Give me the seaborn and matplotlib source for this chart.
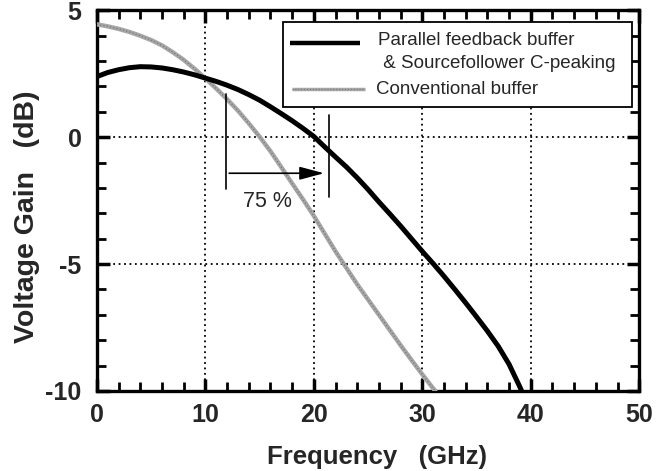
import numpy as np
import pandas as pd
import matplotlib
matplotlib.use("Agg")
import matplotlib.pyplot as plt
from matplotlib.ticker import MultipleLocator
from matplotlib.patches import Rectangle
import seaborn as sns

# Data
freq_pf = [0, 1, 2, 3, 4, 5, 6, 7, 8, 9, 10, 11, 12, 13, 14, 15, 16, 17, 18, 19, 20,
           21, 22, 23, 24, 25, 26, 27, 28, 29, 30, 31, 32, 33, 34, 35, 36, 37, 38, 39, 39.15]
gain_pf = [2.39, 2.55, 2.66, 2.74, 2.78, 2.77, 2.73, 2.66, 2.57, 2.46, 2.33, 2.2, 2.05,
           1.88, 1.68, 1.46, 1.2, 0.93, 0.65, 0.35, 0.03, -0.38, -0.78, -1.17, -1.6,
           -2.06, -2.55, -3.02, -3.5, -4.0, -4.5, -4.98, -5.48, -6.0, -6.53, -7.08, -7.64,
           -8.24, -8.95, -9.85, -10.0]

freq_conv = [0, 1, 2, 3, 4, 5, 6, 7, 8, 9, 10, 11, 12, 13, 14, 15, 16, 17, 18, 19, 20,
             21, 22, 23, 24, 25, 26, 27, 28, 29, 30, 31, 31.2]
gain_conv = [4.45, 4.37, 4.27, 4.15, 4.0, 3.83, 3.62, 3.35, 3.05, 2.7, 2.32, 1.92, 1.5,
             1.05, 0.55, 0.02, -0.55, -1.18, -1.82, -2.45, -3.1, -3.8, -4.5, -5.15, -5.8,
             -6.4, -7.0, -7.6, -8.2, -8.78, -9.35, -9.9, -10.0]

label_pf = ["Parallel feedback buffer", " & Sourcefollower C-peaking"]
label_conv = "Conventional buffer"

pf = pd.DataFrame({"f": freq_pf, "g": gain_pf})
conv = pd.DataFrame({"f": freq_conv, "g": gain_conv})

sns.set_style("ticks")
plt.rcParams["font.family"] = ["Liberation Sans", "DejaVu Sans"]
plt.rcParams["axes.unicode_minus"] = False

fig = plt.figure(figsize=(6.68, 4.71), dpi=100)
ax = fig.add_axes([0.145, 0.170, 0.812, 0.808])

sns.lineplot(data=conv, x="f", y="g", ax=ax, color="#a6a6a6", linewidth=3.2, zorder=3)
sns.lineplot(data=conv, x="f", y="g", ax=ax, color="#6e6e6e", linewidth=0.8,
             linestyle=(0, (1, 2)), zorder=4)
sns.lineplot(data=pf, x="f", y="g", ax=ax, color="black", linewidth=3.6, zorder=5)
for ln in ax.get_lines():
    ln.set_solid_joinstyle("round")

ax.set_xlim(0, 50)
ax.set_ylim(-10, 5)
ax.xaxis.set_major_locator(MultipleLocator(10))
ax.xaxis.set_minor_locator(MultipleLocator(2))
ax.yaxis.set_major_locator(MultipleLocator(5))
ax.yaxis.set_minor_locator(MultipleLocator(1))
ax.tick_params(which="both", direction="in", top=True, right=True, color="black")
ax.tick_params(which="major", length=9, width=2.5, labelsize=18)
ax.tick_params(axis="y", which="major", pad=11)
ax.tick_params(axis="x", which="major", pad=9)
ax.tick_params(which="minor", length=6.5, width=2)
for lab in ax.get_xticklabels() + ax.get_yticklabels():
    lab.set_fontweight("bold")
for s in ax.spines.values():
    s.set_linewidth(2.4)
    s.set_color("black")

ax.grid(True, which="major", color="black", linestyle=(0, (1, 2)), linewidth=1.3)
ax.set_axisbelow(True)

ax.set_xlabel("Frequency   (GHz)", fontsize=18.5, fontweight="bold")
ax.set_ylabel("Voltage Gain   (dB)", fontsize=20.5, fontweight="bold")
ax.xaxis.set_label_coords(0.516, -0.142)
ax.yaxis.set_label_coords(-0.105, 0.457)

# 75 % annotation
ax.plot([11.94, 11.94], [1.69, -2.05], color="black", linewidth=1.2, zorder=6)
ax.plot([21.4, 21.4], [0.87, -2.34], color="black", linewidth=1.2, zorder=6)
ax.annotate("", xy=(21.2, -1.42), xytext=(11.94, -1.42),
            arrowprops=dict(arrowstyle="-|>,head_length=1.5,head_width=0.4",
                            color="black", lw=1.2), zorder=6)
ax.text(15.7, -2.53, "75 %", fontsize=15.5, ha="center", va="center", zorder=6)

# legend box drawn in axes coordinates
tr = ax.transAxes
ax.add_patch(Rectangle((0.343, 0.745), 0.644, 0.225, transform=tr, facecolor="white",
                       edgecolor="black", linewidth=1.3, zorder=10))
ax.plot([0.356, 0.485], [0.914, 0.914], transform=tr, color="black", linewidth=3.2,
        zorder=11, solid_capstyle="butt")
ax.plot([0.360, 0.494], [0.793, 0.793], transform=tr, color="#a6a6a6", linewidth=2.5,
        zorder=11, solid_capstyle="butt")
ax.plot([0.360, 0.494], [0.793, 0.793], transform=tr, color="#6e6e6e", linewidth=0.7,
        linestyle=(0, (1, 2)), zorder=12)
ax.text(0.518, 0.922, label_pf[0], transform=tr, fontsize=13.5, va="center", ha="left",
        zorder=12)
ax.text(0.518, 0.861, label_pf[1], transform=tr, fontsize=13.5, va="center", ha="left",
        zorder=12)
ax.text(0.515, 0.793, label_conv, transform=tr, fontsize=13.5, va="center", ha="left",
        zorder=12)

fig.savefig("out.png", dpi=100)
